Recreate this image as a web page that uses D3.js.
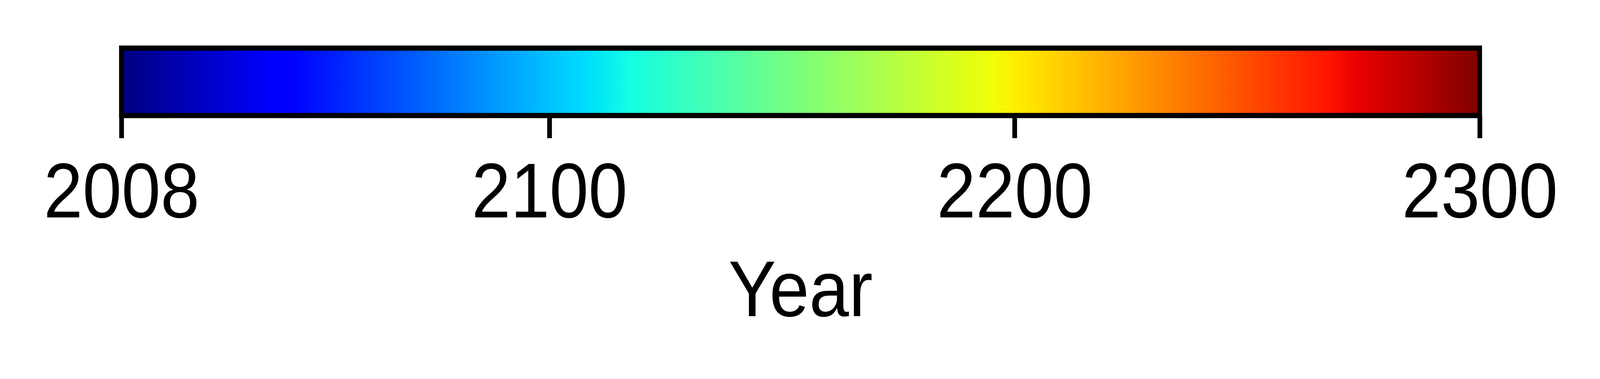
<!DOCTYPE html>
<html>
<head>
<meta charset="utf-8">
<script src="https://cdn.jsdelivr.net/npm/d3@7"></script>
<style>
  html, body { margin: 0; padding: 0; background: #fff; overflow: hidden; width: 100%; height: 100%; }
  svg { display: block; width: 100vw; height: 100vh; }
</style>
</head>
<body>
<svg id="chart" viewBox="0 0 4524 971" preserveAspectRatio="none"></svg>
<script>
// ---- data ----
const yearDomain = [2008, 2300];
const tickYears = [2008, 2100, 2200, 2300];
const axisTitle = "Year";
// jet colormap segment data: [position, value]
const jetRed   = [[0, 0], [0.35, 0], [0.66, 1], [0.89, 1], [1, 0.5]];
const jetGreen = [[0, 0], [0.125, 0], [0.375, 1], [0.64, 1], [0.91, 0], [1, 0]];
const jetBlue  = [[0, 0.5], [0.11, 1], [0.34, 1], [0.65, 0], [1, 0]];

// ---- layout ----
const barLeft = 343.3, barRight = 4183.8, barTop = 123.3, barBottom = 296;
const strokeW = 13.3;
const tickLen = 58;
const tickFont = 198, titleFont = 202;
const fontFamily = "'Liberation Sans', Arial, Helvetica, sans-serif";

const svg = d3.select("#chart");
const x = d3.scaleLinear().domain(yearDomain).range([barLeft, barRight]);

const chan = seg => d3.scaleLinear().domain(seg.map(d => d[0])).range(seg.map(d => d[1])).clamp(true);
const rS = chan(jetRed), gS = chan(jetGreen), bS = chan(jetBlue);
const jet = t => d3.rgb(Math.round(255 * rS(t)), Math.round(255 * gS(t)), Math.round(255 * bS(t))).formatHex();

const stopPos = Array.from(new Set([...jetRed, ...jetGreen, ...jetBlue].map(d => d[0]))).sort((a, b) => a - b);

const defs = svg.append("defs");
const grad = defs.append("linearGradient")
  .attr("id", "jetGrad")
  .attr("gradientUnits", "userSpaceOnUse")
  .attr("x1", x(yearDomain[0])).attr("x2", x(yearDomain[1]))
  .attr("y1", 0).attr("y2", 0);
grad.selectAll("stop").data(stopPos).join("stop")
  .attr("offset", d => d)
  .attr("stop-color", d => jet(d));

// axis ticks
const axis = d3.axisBottom(x)
  .tickValues(tickYears)
  .tickFormat(d3.format("d"))
  .tickSizeInner(tickLen)
  .tickSizeOuter(0);

const gAxis = svg.append("g")
  .attr("transform", `translate(0,${barBottom})`)
  .call(axis);
gAxis.select(".domain").remove();
gAxis.selectAll(".tick line")
  .attr("stroke", "#000")
  .attr("stroke-width", strokeW);
gAxis.selectAll(".tick text")
  .attr("y", 261)
  .attr("dy", 0)
  .attr("fill", "#000")
  .style("font-family", fontFamily)
  .style("font-size", tickFont + "px");

// colour bar
svg.append("rect")
  .attr("x", x(yearDomain[0]))
  .attr("y", barTop)
  .attr("width", x(yearDomain[1]) - x(yearDomain[0]))
  .attr("height", barBottom - barTop)
  .attr("fill", "url(#jetGrad)")
  .attr("stroke", "#000")
  .attr("stroke-width", strokeW);

// title
svg.append("text")
  .attr("x", (barLeft + barRight) / 2)
  .attr("y", 810)
  .attr("text-anchor", "middle")
  .attr("fill", "#000")
  .style("font-family", fontFamily)
  .style("font-size", titleFont + "px")
  .text(axisTitle);
</script>
</body>
</html>
